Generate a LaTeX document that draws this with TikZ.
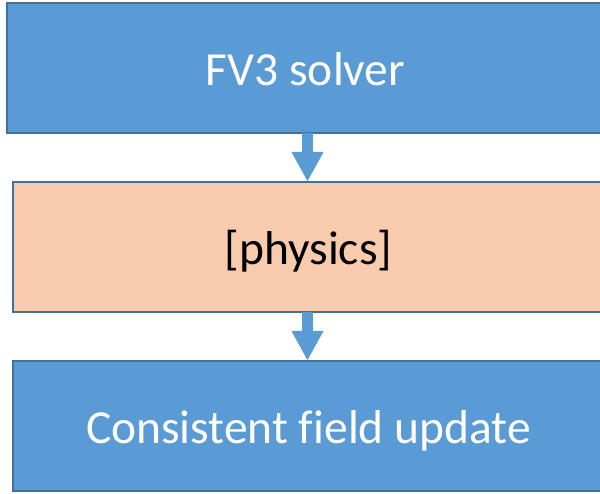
\documentclass[tikz,border=0pt]{standalone}
\usepackage{fontspec}
\setmainfont[Ligatures=NoCommon]{Carlito}
\usetikzlibrary{arrows.meta}
\definecolor{boxblue}{HTML}{5B9BD5}
\definecolor{boxedge}{HTML}{41719C}
\definecolor{boxpeach}{HTML}{F8CBAD}
\newcommand{\lowtext}[1]{\raisebox{-17.5pt}[0pt][0pt]{#1}}
\tikzset{
  stagebox/.style={draw=boxedge, line width=2.5pt, rectangle, inner sep=0pt,
    font=\fontsize{47.5}{56}\selectfont},
  bluebox/.style={stagebox, fill=boxblue, text=white},
  peachbox/.style={stagebox, fill=boxpeach, text=black},
  flowarrow/.style={draw=boxblue, line width=10.5pt,
    -{Triangle[length=30pt,width=30pt]}}
}
\begin{document}
\begin{tikzpicture}[x=1pt,y=-1pt]
\useasboundingbox (0,0) rectangle (600,493);
\clip (0,0) rectangle (600,493);
\node[bluebox, minimum width=597pt, minimum height=130pt] (top) at (305.5,68) {\lowtext{FV3 solver}};
\node[peachbox, minimum width=591pt, minimum height=130pt] (mid) at (308.5,247) {\lowtext{[physics]}};
\node[bluebox, minimum width=591pt, minimum height=130pt] (bot) at (308.5,426) {\lowtext{Consistent field update}};
\coordinate (ax) at (307.5,0);
\draw[flowarrow] ([yshift=1pt]top.south -| ax) -- ([yshift=-1pt]mid.north -| ax);
\draw[flowarrow] ([yshift=1pt]mid.south -| ax) -- ([yshift=-1pt]bot.north -| ax);
\end{tikzpicture}
\end{document}
